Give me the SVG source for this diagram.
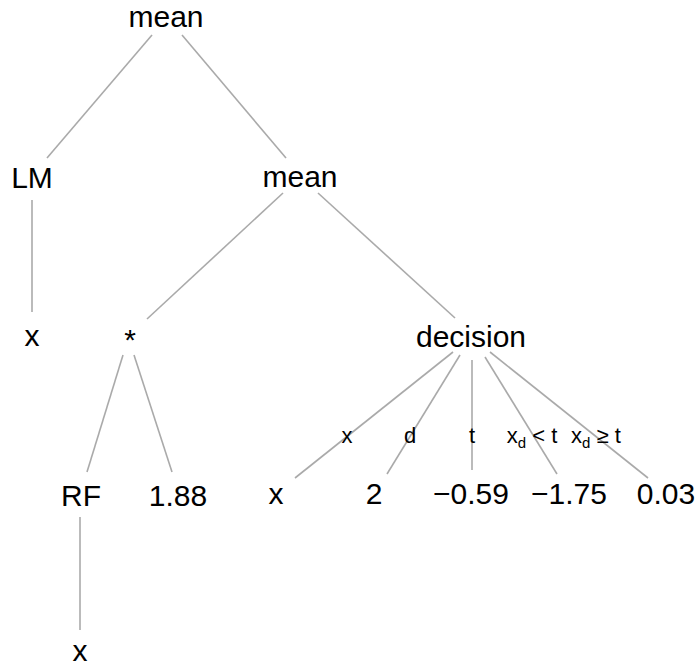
<svg xmlns="http://www.w3.org/2000/svg" width="700" height="666" viewBox="0 0 700 666">
  <style>
    .node { font-family: "Liberation Sans", Arial, sans-serif; font-size: 30px; fill: #000; text-anchor: middle; }
    .elab { font-family: "Liberation Sans", Arial, sans-serif; font-size: 22px; fill: #000; text-anchor: middle; }
    .sub { font-size: 15px; }
    .edge { stroke: #aaaaaa; stroke-width: 1.6; fill: none; }
  </style>
  <rect width="700" height="666" fill="#fff"/>

  <!-- connectors -->
  <g id="edges">
    <line class="edge" x1="152" y1="35" x2="47" y2="158"/>
    <line class="edge" x1="182" y1="35" x2="286" y2="158"/>
    <line class="edge" x1="32" y1="200" x2="32" y2="312"/>
    <line class="edge" x1="283" y1="193" x2="147" y2="319"/>
    <line class="edge" x1="318" y1="193" x2="455" y2="318"/>
    <line class="edge" x1="123" y1="355" x2="87" y2="472"/>
    <line class="edge" x1="134" y1="355" x2="172" y2="472"/>
    <line class="edge" x1="80" y1="517" x2="80" y2="630"/>
    <line class="edge" x1="453" y1="352" x2="295" y2="478"/>
    <line class="edge" x1="460" y1="355" x2="387" y2="474"/>
    <line class="edge" x1="472" y1="360" x2="472" y2="470"/>
    <line class="edge" x1="485" y1="357" x2="557" y2="474"/>
    <line class="edge" x1="490" y1="352" x2="648" y2="478"/>
  </g>

  <!-- edge labels of the decision node -->
  <g id="edge-labels">
    <text class="elab" x="347" y="443">x</text>
    <text class="elab" x="410" y="443">d</text>
    <text class="elab" x="472" y="443">t</text>
    <text class="elab" x="532" y="443">x<tspan class="sub" dy="5">d</tspan><tspan dy="-5"> &lt; t</tspan></text>
    <text class="elab" x="596" y="443">x<tspan class="sub" dy="5">d</tspan><tspan dy="-5"> ≥ t</tspan></text>
  </g>

  <!-- depth 0 -->
  <g id="n-mean-root"><text class="node" x="166" y="27">mean</text></g>
  <!-- depth 1 -->
  <g id="n-lm"><text class="node" x="32" y="188">LM</text></g>
  <g id="n-mean"><text class="node" x="300" y="187">mean</text></g>
  <!-- depth 2 -->
  <g id="n-lm-x"><text class="node" x="32" y="346">x</text></g>
  <g id="n-times"><text class="node" x="130" y="350">*</text></g>
  <g id="n-decision"><text class="node" x="471" y="347">decision</text></g>
  <!-- depth 3 -->
  <g id="n-rf"><text class="node" x="81" y="506">RF</text></g>
  <g id="n-const"><text class="node" x="178" y="506">1.88</text></g>
  <g id="n-dec-x"><text class="node" x="276" y="504">x</text></g>
  <g id="n-dec-d"><text class="node" x="374" y="504">2</text></g>
  <g id="n-dec-t"><text class="node" x="471" y="504">−0.59</text></g>
  <g id="n-dec-lo"><text class="node" x="569" y="504">−1.75</text></g>
  <g id="n-dec-hi"><text class="node" x="666" y="504">0.03</text></g>
  <!-- depth 4 -->
  <g id="n-rf-x"><text class="node" x="80" y="661">x</text></g>
</svg>
